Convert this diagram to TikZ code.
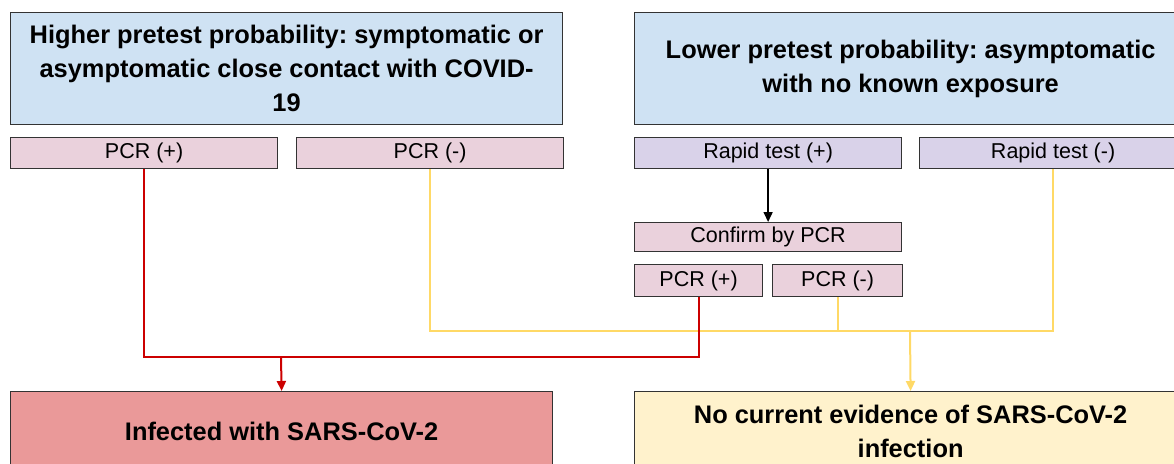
\documentclass[tikz,border=0pt]{standalone}
\usepackage{fontspec}
\setmainfont{Liberation Sans}
\frenchspacing
\usetikzlibrary{arrows.meta}
\definecolor{probblue}{HTML}{CFE2F3}
\definecolor{pcrpink}{HTML}{EAD1DC}
\definecolor{rapidlilac}{HTML}{D9D2E9}
\definecolor{posred}{HTML}{EA9999}
\definecolor{negyellow}{HTML}{FFF2CC}
\definecolor{redline}{HTML}{CC0000}
\definecolor{yellowline}{HTML}{FFD966}

\begin{document}
\begin{tikzpicture}[x=1pt,y=-1pt]
    \tikzstyle{every node}+=[inner sep=0pt, anchor=north west, draw=black!80, line width=1.2pt]
    \tikzstyle{prob}=[fill=probblue, minimum width=552pt, minimum height=112pt, align=center, font=\fontsize{25.4}{34}\selectfont\bfseries]
    \tikzstyle{result}=[fill=pcrpink, minimum width=267pt, minimum height=31pt, font=\fontsize{21.5}{26}\selectfont]
    \tikzstyle{link}=[line width=2pt]
    \tikzstyle{tip}=[-{Triangle[length=10pt,width=9pt]}]
    \useasboundingbox (0,0) rectangle (1174,463);
    \clip (0,0) rectangle (1174,463);
    \node [prob] (higher) at (10,12) {Higher pretest probability: symptomatic or\\asymptomatic close contact with COVID-\\19};
    \node [prob] (lower) at (634,12) {Lower pretest probability: asymptomatic\\with no known exposure};
    \node [result] (pcrpos) at (10,137) {PCR (+)};
    \node [result] (pcrneg) at (296,137) {PCR (-)};
    \node [result, fill=rapidlilac] (rapidpos) at (634,137) {Rapid test (+)};
    \node [result, fill=rapidlilac] (rapidneg) at (919,137) {Rapid test (-)};
    \node [result, minimum height=29pt] (confirm) at (634,222) {Confirm by PCR};
    \node [result, minimum width=128pt, minimum height=32pt] (pcrpos2) at (634,264) {PCR (+)};
    \node [result, minimum width=130pt, minimum height=32pt] (pcrneg2) at (772,264) {PCR (-)};
    \node [prob, fill=posred, minimum width=542pt, minimum height=80pt] (infected) at (10,391) {Infected with SARS-CoV-2};
    \node [prob, fill=negyellow, minimum height=80pt] (nocurrent) at (634,391) {No current evidence of SARS-CoV-2\\infection};
    \coordinate (redlvl) at (281,357);
    \coordinate (yellowlvl) at (910,331);
    \draw [link, tip, line width=1.6pt] (rapidpos.south) -- (confirm.north);
    \draw [link, yellowline] (pcrneg.south) |- (rapidneg.south |- yellowlvl) -- (rapidneg.south);
    \draw [link, yellowline] (pcrneg2.south) -- (pcrneg2.south |- yellowlvl);
    \draw [link, yellowline, tip] (yellowlvl) -- (nocurrent.north);
    \draw [link, redline] (pcrpos.south) |- (pcrpos2.south |- redlvl) -- (pcrpos2.south);
    \draw [link, redline, tip] (redlvl) -- (infected.north);
\end{tikzpicture}
\end{document}
